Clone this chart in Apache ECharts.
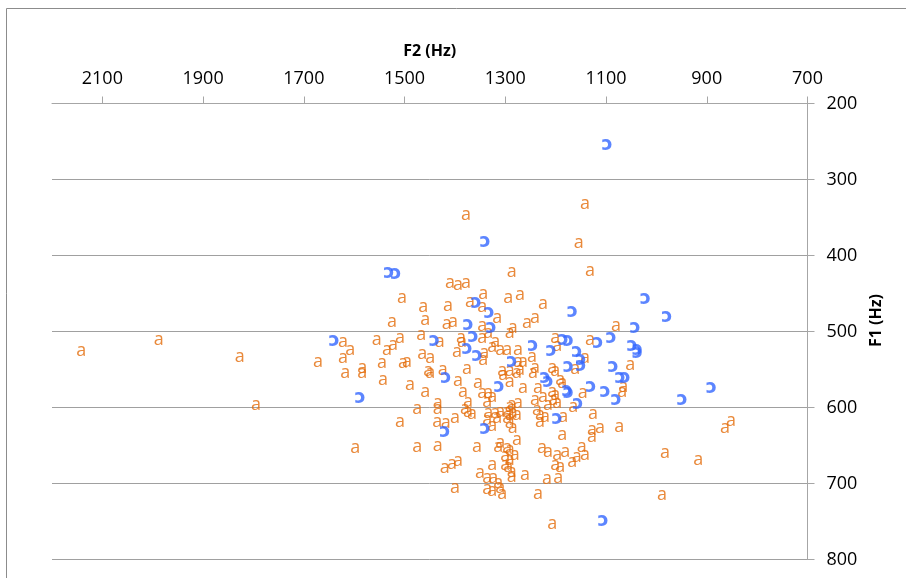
<!DOCTYPE html>
<html>
<head>
<meta charset="utf-8">
<script src="https://cdn.jsdelivr.net/npm/echarts@6/dist/echarts.min.js"></script>
<style>
html,body{margin:0;padding:0;background:#fff;}
#c{width:906px;height:578px;}
</style>
</head>
<body>
<div id="c"></div>
<script>
// F2 tick labels (horizontal axis, reversed)
const f2Ticks = [700, 900, 1100, 1300, 1500, 1700, 1900, 2100];
const f1Ticks = [200, 300, 400, 500, 600, 700, 800];

// vowel "a" tokens: [F2, F1]
const vowelA = [
[2142,525],[1988,511],[1827,533],[1795,597],[1672,540],[1598,653],
[1378,346],[1142,332],[1154,383],[1287,421],[1132,420],
[1410,436],[1394,438],[1378,436],
[1505,456],[1463,467],[1414,466],[1370,461],[1344,450],[1346,467],[1294,456],[1271,452],[1225,464],
[1525,487],[1459,485],[1416,490],[1404,487],[1346,492],[1316,482],[1257,489],[1241,482],[1291,502],[1285,495],
[1080,492],
[1622,514],[1608,524],[1622,535],[1555,511],[1535,524],[1523,518],[1509,508],[1467,504],[1430,514],
[1388,508],[1386,514],[1346,508],[1334,502],[1320,514],[1326,520],
[1396,527],[1344,537],[1342,528],[1310,524],[1296,524],[1275,524],
[1465,529],[1449,535],
[1545,541],[1503,541],[1495,540],[1584,548],[1584,554],[1618,554],[1453,552],[1424,550],[1376,549],
[1306,552],[1291,552],[1275,540],[1265,540],[1271,550],
[1201,508],[1197,519],[1132,511],[1247,533],[1241,548],[1245,554],[1142,535],[1161,549],[1207,548],[1201,552],[1052,544],
[1543,564],[1489,570],[1459,579],[1449,554],[1394,565],[1384,579],[1374,593],[1354,568],[1346,581],[1334,581],
[1326,586],[1336,593],[1304,557],[1291,566],[1277,554],
[1475,602],[1434,594],[1434,602],[1509,619],[1435,619],[1418,620],[1400,614],[1380,602],[1374,606],[1366,608],
[1334,607],[1320,607],[1310,606],[1336,616],[1326,624],[1316,614],[1296,606],[1296,614],[1291,599],[1285,607],
[1291,620],[1285,627],
[1265,574],[1235,574],[1225,586],[1207,579],[1201,583],[1191,564],[1187,568],[1146,581],[1068,579],[1066,573],
[1287,597],[1275,594],[1291,610],[1277,610],[1241,590],[1237,603],[1231,610],[1221,612],[1231,619],[1215,597],
[1205,590],[1197,594],[1165,599],[1185,612],[1126,608],
[1187,636],[1128,630],[1128,639],[1112,627],[1074,626],
[1475,652],[1434,651],[1356,652],[1310,647],[1314,652],[1296,653],
[1277,643],[1291,656],[1281,662],[1291,669],[1294,678],[1287,685],
[1227,653],[1215,658],[1197,662],[1181,658],[1201,676],[1191,678],[1167,672],[1158,665],[1148,652],[1142,662],
[983,660],[917,669],[852,618],[864,627],
[1420,680],[1406,674],[1394,670],[1326,676],[1300,664],[1300,676],
[1350,686],[1336,693],[1324,693],[1314,699],[1287,691],[1261,689],[1217,694],[1195,693],
[1400,706],[1336,707],[1326,710],[1310,706],[1306,713],[1235,714],[989,715],
[1207,753]
];

// vowel "ɔ" tokens: [F2, F1]
const vowelO = [
[1098,254],[1340,382],[1531,423],[1517,424],[1358,462],[1332,475],[1328,495],[1374,491],
[1441,512],[1364,507],[1376,523],[1356,532],[1418,560],[1287,540],[1167,474],[1022,457],
[979,481],[1042,495],[1245,519],[1185,511],[1175,512],[1116,515],[1090,508],[1048,518],
[1038,524],[1038,528],[1209,525],[1158,527],[1150,537],[1150,545],[1175,546],[1086,546],
[1072,560],[1062,561],[1221,561],[1215,566],[1312,572],[1588,587],[1420,632],[1340,628],
[1177,578],[1175,581],[1130,573],[1102,579],[1080,589],[949,589],[891,574],[1156,595],
[1197,614],[1640,512],[1106,749]
];

const FONT = "'Open Sans', 'DejaVu Sans', sans-serif";
const chart = echarts.init(document.getElementById('c'), null, {renderer: 'canvas'});

function letterSeries(name, data, text, color, weight, size) {
  return {
    name: name,
    type: 'scatter',
    data: data,
    symbol: 'circle',
    symbolSize: 2,
    itemStyle: {color: 'rgba(0,0,0,0)', borderWidth: 0},
    silent: true,
    label: {
      show: true,
      position: 'inside',
      formatter: text,
      color: color,
      fontFamily: FONT,
      fontSize: size,
      fontWeight: weight,
      align: 'center',
      verticalAlign: 'middle'
    },
    labelLayout: {hideOverlap: false}
  };
}

const plain = v => String(v);

chart.setOption({
  animation: false,
  backgroundColor: '#ffffff',
  grid: {left: 52, right: 98.5, top: 103.5, bottom: 18.5, containLabel: false},
  xAxis: {
    type: 'value',
    position: 'top',
    inverse: true,
    min: 700,
    max: 2200,
    interval: 200,
    name: 'F2 (Hz)',
    nameLocation: 'middle',
    nameGap: 44,
    nameTextStyle: {fontFamily: FONT, fontSize: 16, fontWeight: 'bold', color: '#000'},
    axisLine: {show: true, onZero: false, lineStyle: {color: '#a6a6a6', width: 1}},
    axisTick: {show: true, inside: false, length: 7, customValues: f2Ticks, lineStyle: {color: '#a6a6a6'}},
    axisLabel: {show: true, margin: 16, customValues: f2Ticks, formatter: plain, fontFamily: FONT, fontSize: 18, color: '#000'},
    splitLine: {show: false}
  },
  yAxis: {
    type: 'value',
    position: 'right',
    inverse: true,
    min: 200,
    max: 800,
    interval: 100,
    name: 'F1 (Hz)',
    nameLocation: 'middle',
    nameRotate: 90,
    nameGap: 60,
    nameTextStyle: {fontFamily: FONT, fontSize: 16, fontWeight: 'bold', color: '#000', padding: [0, 0, 0, 22]},
    axisLine: {show: true, onZero: false, lineStyle: {color: '#a6a6a6', width: 1}},
    axisTick: {show: true, inside: false, length: 7, lineStyle: {color: '#a6a6a6'}},
    axisLabel: {show: true, margin: 19, formatter: plain, fontFamily: FONT, fontSize: 18, color: '#000',
      customValues: f1Ticks},
    splitLine: {show: true, lineStyle: {color: '#a0a0a0', width: 1}}
  },
  graphic: [
    {type: 'line', silent: true, shape: {x1: 6.5, y1: 8.5, x2: 906, y2: 8.5}, style: {stroke: '#8c8c8c', lineWidth: 1}},
    {type: 'line', silent: true, shape: {x1: 6.5, y1: 8.5, x2: 6.5, y2: 578}, style: {stroke: '#8c8c8c', lineWidth: 1}}
  ],
  series: [
    letterSeries('a', vowelA, 'a', '#E36C09', 'normal', 18),
    letterSeries('ɔ', vowelO, 'ɔ', '#3366FF', 'bold', 19)
  ]
});
</script>
</body>
</html>
